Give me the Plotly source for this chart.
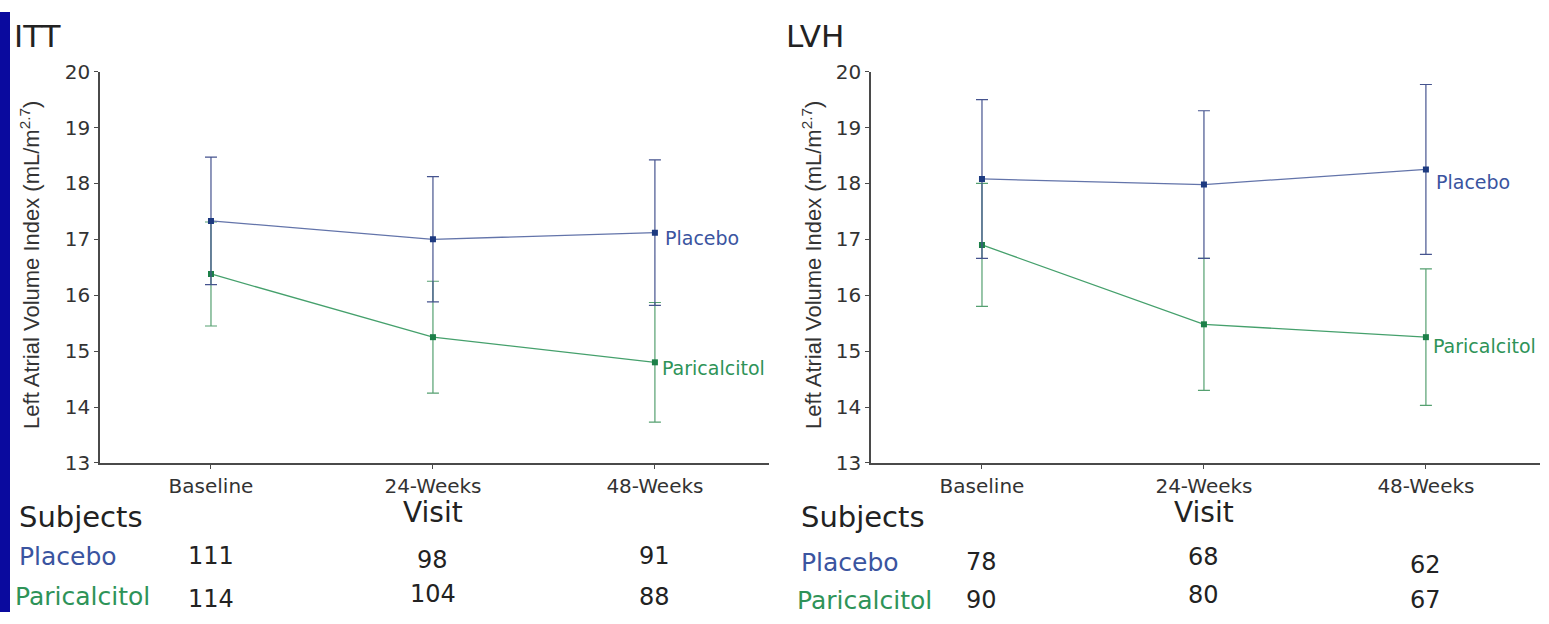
import plotly.graph_objects as go

W, H = 1549, 624

visits = ["Baseline", "24-Weeks", "48-Weeks"]

# ITT panel
itt_placebo = [17.33, 17.00, 17.12]
itt_placebo_err = [1.14, 1.12, 1.30]
itt_parical = [16.38, 15.25, 14.80]
itt_parical_err = [0.93, 1.00, 1.07]
itt_n_placebo = [111, 98, 91]
itt_n_parical = [114, 104, 88]

# LVH panel
lvh_placebo = [18.08, 17.98, 18.25]
lvh_placebo_err = [1.42, 1.32, 1.52]
lvh_parical = [16.90, 15.48, 15.25]
lvh_parical_err = [1.10, 1.18, 1.22]
lvh_n_placebo = [78, 68, 62]
lvh_n_parical = [90, 80, 67]

panel_titles = ["ITT", "LVH"]
y_title = "Left Atrial Volume Index (mL/m<sup>2.7</sup>)"
x_title = "Visit"

PLAC_LINE = "#6374aa"
PLAC_ERR = "#45538e"
PLAC_MARK = "#1d3a80"
PLAC_TEXT = "#3a54a0"
PAR_LINE = "#45a06c"
PAR_ERR = "#55a070"
PAR_MARK = "#1c8048"
PAR_TEXT = "#2e9358"
AX = "#4a4a4a"
TXT = "#333333"
FONT = "Liberation Sans, Arial, sans-serif"
WFONT = "DejaVu Sans, Verdana, sans-serif"

def px(x):
    return x / W

def py(y):
    return 1 - y / H

fig = go.Figure()

panels = [
    ("x", "y", itt_placebo, itt_placebo_err, itt_parical, itt_parical_err),
    ("x2", "y2", lvh_placebo, lvh_placebo_err, lvh_parical, lvh_parical_err),
]
for xa, ya, pv, pe, qv, qe in panels:
    fig.add_trace(go.Scatter(
        x=visits, y=qv, xaxis=xa, yaxis=ya, mode="lines+markers",
        line=dict(color=PAR_LINE, width=1.3),
        marker=dict(symbol="square", size=6, color=PAR_MARK),
        error_y=dict(type="data", array=qe, visible=True, color=PAR_ERR,
                     thickness=1.2, width=6),
        showlegend=False, hoverinfo="skip"))
    fig.add_trace(go.Scatter(
        x=visits, y=pv, xaxis=xa, yaxis=ya, mode="lines+markers",
        line=dict(color=PLAC_LINE, width=1.3),
        marker=dict(symbol="square", size=6, color=PLAC_MARK),
        error_y=dict(type="data", array=pe, visible=True, color=PLAC_ERR,
                     thickness=1.2, width=6),
        showlegend=False, hoverinfo="skip"))

y_dom = [py(469), py(62)]
x1_dom = [px(100), px(769)]
x2_dom = [px(871), px(1540)]

axis_common = dict(showline=True, linecolor=AX, linewidth=1.5, ticks="outside",
                   ticklen=4, tickcolor=AX, tickwidth=1.2, showgrid=False,
                   zeroline=False)
xcommon = dict(axis_common, type="category", categoryorder="array",
               categoryarray=visits, range=[-0.5, 2.514],
               tickfont=dict(family=WFONT, size=20, color=TXT))
ycommon = dict(axis_common, range=[13, 20], dtick=1, tick0=13,
               tickfont=dict(family=WFONT, size=20, color=TXT))

fig.update_layout(
    width=W, height=H, margin=dict(l=0, r=0, t=0, b=0),
    paper_bgcolor="white", plot_bgcolor="white",
    xaxis=dict(xcommon, domain=x1_dom, anchor="y"),
    yaxis=dict(ycommon, domain=y_dom, anchor="x"),
    xaxis2=dict(xcommon, domain=x2_dom, anchor="y2"),
    yaxis2=dict(ycommon, domain=y_dom, anchor="x2"),
)

# blue stripe at left edge
fig.add_shape(type="rect", xref="paper", yref="paper", x0=0, x1=px(10), y0=0, y1=1,
              fillcolor="#0a0a9e", line=dict(width=0), layer="below")

ann = []
panel_info = [
    ("x", "y", 12, 30, itt_placebo, itt_parical, itt_n_placebo, itt_n_parical,
     (-5, -6), (566, 608), [566, 570, 566], [610, 605, 608], 17, 13),
    ("x2", "y2", 784, 812, lvh_placebo, lvh_parical, lvh_n_placebo, lvh_n_parical,
     (-13, -9), (573, 612), [572, 567, 575], [612, 606, 612], 799, 795),
]
for k, (xa, ya, tx, ytx, pv, qv, npl, npa, shifts, rows, yrow_p, yrow_q, lx_p, lx_q) in enumerate(panel_info):
    ann.append(dict(text=panel_titles[k], xref="paper", yref="paper", x=px(tx), y=py(25),
                    xanchor="left", yanchor="middle", showarrow=False,
                    font=dict(family=WFONT, size=31, color="#222222")))
    ann.append(dict(text=y_title, xref="paper", yref="paper", x=px(ytx), y=py(263),
                    xanchor="center", yanchor="middle", textangle=-90, showarrow=False,
                    font=dict(family=FONT, size=22, color=TXT)))
    ann.append(dict(text="Placebo", xref=xa, yref=ya,
                    x=visits[2], y=pv[2], xanchor="left", yanchor="middle",
                    xshift=8, yshift=shifts[0], showarrow=False,
                    font=dict(family=WFONT, size=19, color=PLAC_TEXT)))
    ann.append(dict(text="Paricalcitol", xref=xa, yref=ya,
                    x=visits[2], y=qv[2], xanchor="left", yanchor="middle",
                    xshift=5, yshift=shifts[1], showarrow=False,
                    font=dict(family=WFONT, size=19, color=PAR_TEXT)))
    ann.append(dict(text=x_title, xref=xa, yref="paper", x=visits[1], y=py(521),
                    xanchor="center", yanchor="middle", showarrow=False,
                    font=dict(family=WFONT, size=28, color="#222222")))
    ann.append(dict(text="Subjects", xref="paper", yref="paper", x=px(lx_p), y=py(525),
                    xanchor="left", yanchor="middle", showarrow=False,
                    font=dict(family=WFONT, size=29, color="#222222")))
    ann.append(dict(text="Placebo", xref="paper", yref="paper", x=px(lx_p), y=py(rows[0]),
                    xanchor="left", yanchor="middle", showarrow=False,
                    font=dict(family=WFONT, size=25, color=PLAC_TEXT)))
    ann.append(dict(text="Paricalcitol", xref="paper", yref="paper", x=px(lx_q), y=py(rows[1]),
                    xanchor="left", yanchor="middle", showarrow=False,
                    font=dict(family=WFONT, size=25, color=PAR_TEXT)))
    for i, v in enumerate(visits):
        ann.append(dict(text=str(npl[i]), xref=xa, yref="paper", x=v, y=py(yrow_p[i]),
                        xanchor="center", yanchor="middle", showarrow=False,
                        font=dict(family=WFONT, size=24, color="#222222")))
        ann.append(dict(text=str(npa[i]), xref=xa, yref="paper", x=v, y=py(yrow_q[i]),
                        xanchor="center", yanchor="middle", showarrow=False,
                        font=dict(family=WFONT, size=24, color="#222222")))

fig.update_layout(annotations=ann)
fig.write_html("out.html")
